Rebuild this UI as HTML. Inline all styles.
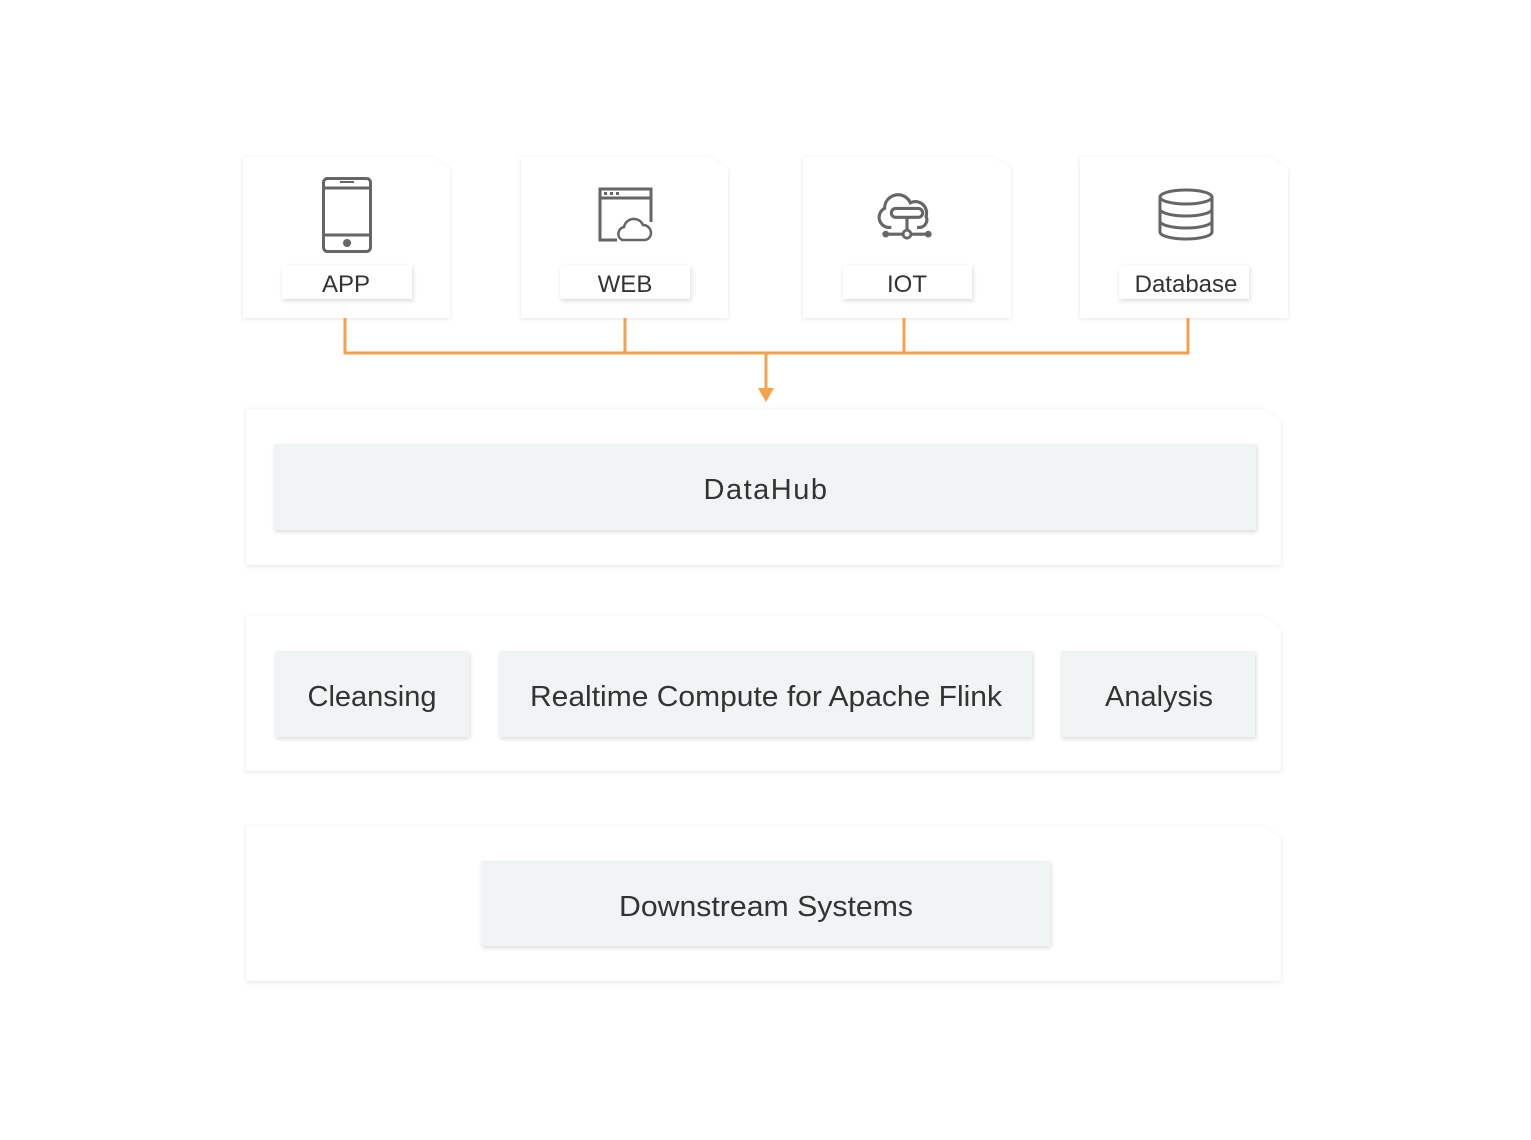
<!DOCTYPE html>
<html><head><meta charset="utf-8"><style>
html,body{margin:0;padding:0;background:#fff;}
svg{display:block;}
text{font-family:"Liberation Sans",sans-serif;fill:#333;}
</style></head><body>
<svg width="1531" height="1140" viewBox="0 0 1531 1140" xmlns="http://www.w3.org/2000/svg">
<defs>
<filter id="sh" x="-10%" y="-10%" width="120%" height="130%">
<feDropShadow dx="0" dy="1" stdDeviation="2" flood-color="#000" flood-opacity="0.10"/>
</filter>
<filter id="sh2" x="-10%" y="-20%" width="120%" height="150%">
<feDropShadow dx="1" dy="2" stdDeviation="2" flood-color="#000" flood-opacity="0.14"/>
</filter>
</defs>
<rect width="1531" height="1140" fill="#fff"/>

<g filter="url(#sh)" fill="#fff">
<path d="M243 157 H432 L450 169 V318 H243 Z"/>
<path d="M521 157 H710 L728 169 V318 H521 Z"/>
<path d="M803 157 H993 L1011 169 V318 H803 Z"/>
<path d="M1080 157 H1270 L1288 169 V318 H1080 Z"/>
</g>
<g filter="url(#sh2)" fill="#fff">
<rect x="282" y="265" width="130" height="34"/>
<rect x="560" y="265" width="130" height="34"/>
<rect x="843" y="265" width="129" height="34"/>
<rect x="1119" y="265" width="130" height="34"/>
</g>
<g font-size="24" text-anchor="middle">
<text x="346" y="292">APP</text>
<text x="625" y="292">WEB</text>
<text x="907" y="292">IOT</text>
<text x="1186" y="292">Database</text>
</g>

<g stroke="#666" stroke-width="3" fill="none">
<rect x="323.5" y="178.5" width="47" height="73" rx="4"/>
<line x1="323" y1="188" x2="371" y2="188"/>
<line x1="323" y1="235" x2="371" y2="235"/>
<line x1="340" y1="182" x2="354" y2="182" stroke-width="2"/>
<path d="M617 240 H600 V189 H651 V222"/>
<line x1="600" y1="198" x2="651" y2="198"/>
<path d="M622 240 a7 7 0 0 1 2 -13 a10 10 0 0 1 19 -2 a8 8 0 0 1 8 8 a7 7 0 0 1 -7 7 Z" stroke-width="2.5"/>
<ellipse cx="1186" cy="197" rx="26" ry="7"/>
<path d="M1160 197 V232 a26 7 0 0 0 52 0 V197"/>
<path d="M1160 209 a26 7 0 0 0 52 0"/>
<path d="M1160 221 a26 7 0 0 0 52 0"/>
</g>
<g transform="translate(907 214) scale(1.12) translate(-907 -218)">
<g stroke="#666" stroke-width="2.8" fill="none">
<path d="M893 230 h-2 a9 9 0 0 1 -4 -17 a12 12 0 0 1 23 -5 a10 10 0 0 1 14 12 a7 7 0 0 1 -5 10 h-3"/>
<rect x="893" y="213" width="28" height="8" rx="4"/>
<line x1="907" y1="221" x2="907" y2="233"/>
<line x1="888" y1="236" x2="926" y2="236"/>
</g>
<g fill="#666">
<circle cx="888" cy="236" r="3"/><circle cx="926" cy="236" r="3"/>
<circle cx="907" cy="236" r="3.5" fill="#fff" stroke="#666" stroke-width="2.5"/>
</g>
</g>
<g fill="#666">
<rect x="604" y="192" width="3" height="3"/><rect x="610" y="192" width="3" height="3"/><rect x="616" y="192" width="3" height="3"/>
<circle cx="347" cy="243" r="4"/>
</g>

<g stroke="#f5a04a" stroke-width="3" fill="none">
<path d="M345 318 V353 H1188 V318"/>
<line x1="625" y1="318" x2="625" y2="353"/>
<line x1="904" y1="318" x2="904" y2="353"/>
<line x1="766" y1="353" x2="766" y2="390"/>
</g>
<path d="M758 388 L774 388 L766 402 Z" fill="#f5a04a"/>

<g filter="url(#sh)" fill="#fff">
<path d="M246 409 H1262 L1281 421 V565 H246 Z"/>
<path d="M246 616 H1262 L1281 628 V771 H246 Z"/>
<path d="M246 826 H1262 L1281 838 V981 H246 Z"/>
</g>
<g filter="url(#sh2)" fill="#f0f4f5">
<rect x="274" y="444" width="982" height="86"/>
<rect x="275" y="651" width="194" height="86"/>
<rect x="499" y="651" width="533" height="86"/>
<rect x="1061" y="651" width="194" height="86"/>
<rect x="481" y="861" width="569" height="85"/>
</g>
<g font-size="29" text-anchor="middle">
<text x="766" y="499" letter-spacing="1.5">DataHub</text>
<text x="372" y="706">Cleansing</text>
<text x="766" y="706" textLength="472" lengthAdjust="spacingAndGlyphs">Realtime Compute for Apache Flink</text>
<text x="1159" y="706">Analysis</text>
<text x="766" y="916" textLength="294" lengthAdjust="spacingAndGlyphs">Downstream Systems</text>
</g>
</svg>
</body></html>
